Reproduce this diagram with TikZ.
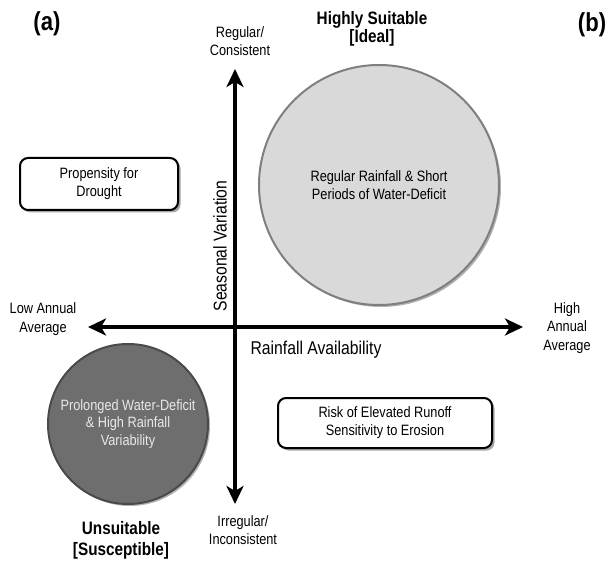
\documentclass[tikz,border=0pt]{standalone}
\usepackage{fontspec}
\setmainfont{Liberation Sans}[FakeStretch=0.85]
\usepackage{xcolor}
\usetikzlibrary{positioning,shadows,arrows.meta}

\definecolor{suitfill}{HTML}{D9D9D9}
\definecolor{suitline}{HTML}{7F7F7F}
\definecolor{unsuitfill}{HTML}{6E6E6E}
\definecolor{unsuitline}{HTML}{4A4A4A}
\definecolor{unsuittext}{HTML}{E8E8E8}

\tikzset{
    axis/.style={line width=3.5pt,{Stealth[length=18pt,width=17pt,inset=5pt]}-{Stealth[length=18pt,width=17pt,inset=5pt]}},
    endlabel/.style={align=center,font=\fontsize{15}{18.5}\selectfont},
    axislabel/.style={font=\fontsize{18.5}{22}\selectfont},
    title/.style={align=center,font=\bfseries\fontsize{18}{18}\selectfont},
    panel/.style={font=\bfseries\fontsize{26}{26}\selectfont},
    infobox/.style={draw,line width=2pt,rounded corners=8pt,fill=white,align=center,
        font=\fontsize{15}{18}\selectfont,
        drop shadow={shadow xshift=2.5pt,shadow yshift=-2.5pt,opacity=0.35,fill=black}},
    zone/.style={circle,line width=2pt,inner sep=0pt,align=center,
        font=\fontsize{15}{17.5}\selectfont,
        drop shadow={shadow xshift=2pt,shadow yshift=-2pt,opacity=0.3,fill=black}}
}

\begin{document}
\begin{tikzpicture}[x=1pt,y=-1pt]
    \useasboundingbox (0,0) rectangle (616,561);

    % panel letters
    \node[panel] (pa) at (47,24) {(a)};
    \node[panel] (pb) at (592,25) {(b)};

    % zones
    \node[zone,draw=suitline,fill=suitfill,minimum size=240pt] (suit) at (379,185)
        {Regular Rainfall \& Short\\Periods of Water-Deficit};
    \node[zone,draw=unsuitline,fill=unsuitfill,text=unsuittext,minimum size=160pt] (unsuit) at (128,424)
        {Prolonged Water-Deficit\\\& High Rainfall\\Variability};

    % boxes
    \node[infobox,minimum width=158pt,minimum height=52pt] (drought) at (99,184)
        {Propensity for\\Drought};
    \node[infobox,minimum width=214pt,minimum height=50pt] (runoff) at (385,423)
        {Risk of Elevated Runoff\\Sensitivity to Erosion};

    % axes
    \coordinate (origin) at (235,327);
    \coordinate (west) at (88,327);
    \coordinate (east) at (523,327);
    \coordinate (north) at (235,69);
    \coordinate (south) at (235,504);
    \draw[axis] (west) -- (east);
    \draw[axis] (south) -- (north);

    % axis labels
    \node[endlabel] (regular) at (240,41) {Regular/\\Consistent};
    \node[endlabel] (irregular) at (243,530) {Irregular/\\Inconsistent};
    \node[endlabel] (lowavg) at (43,319) {Low Annual\\Average};
    \node[endlabel] (highavg) at (567,328) {High\\Annual\\Average};
    \node[axislabel,rotate=90] (seasonal) at (220,246) {Seasonal Variation};
    \node[axislabel] (rainfall) at (316,350) {Rainfall Availability};

    % titles
    \node[title] (ideal) at (372,29) {Highly Suitable\\{[Ideal]}};
    \node[title,font=\bfseries\fontsize{18}{21}\selectfont] (susceptible) at (121,540)
        {Unsuitable\\{[Susceptible]}};
\end{tikzpicture}
\end{document}
